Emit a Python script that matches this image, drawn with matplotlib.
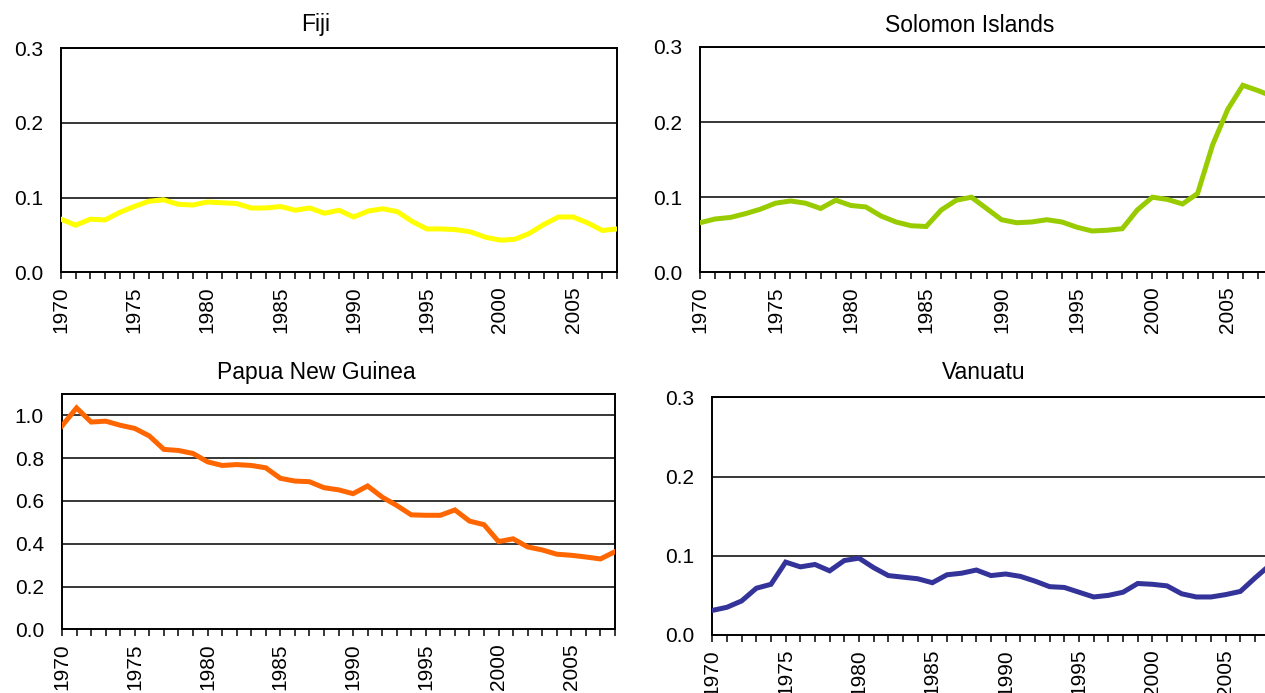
import matplotlib
matplotlib.use("Agg")
import matplotlib.pyplot as plt
import numpy as np

plt.rcParams['font.family'] = ['Liberation Sans', 'DejaVu Sans']

years = list(range(1970, 2009))

fiji = [0.071, 0.063, 0.071, 0.070, 0.080, 0.088, 0.095, 0.097, 0.091, 0.090,
        0.094, 0.093, 0.092, 0.086, 0.086, 0.088, 0.083, 0.086, 0.079, 0.083,
        0.074, 0.082, 0.085, 0.081, 0.068, 0.058, 0.058, 0.057, 0.054, 0.047,
        0.043, 0.044, 0.052, 0.064, 0.074, 0.074, 0.066, 0.056, 0.058]

solomon = [0.066, 0.071, 0.073, 0.078, 0.084, 0.092, 0.095, 0.092, 0.085, 0.096,
           0.089, 0.087, 0.075, 0.067, 0.062, 0.061, 0.083, 0.096, 0.100, 0.085,
           0.070, 0.066, 0.067, 0.070, 0.067, 0.060, 0.055, 0.056, 0.058, 0.083,
           0.100, 0.097, 0.091, 0.105, 0.170, 0.217, 0.249, 0.242, 0.234]

png = [0.951, 1.035, 0.969, 0.973, 0.954, 0.939, 0.904, 0.841, 0.836, 0.822,
       0.783, 0.766, 0.770, 0.766, 0.755, 0.706, 0.693, 0.690, 0.662, 0.652,
       0.634, 0.670, 0.618, 0.579, 0.535, 0.533, 0.533, 0.558, 0.506, 0.489,
       0.410, 0.423, 0.385, 0.371, 0.351, 0.346, 0.338, 0.329, 0.363]

vanuatu = [0.031, 0.035, 0.043, 0.059, 0.064, 0.092, 0.086, 0.089, 0.081, 0.094,
           0.097, 0.085, 0.075, 0.073, 0.071, 0.066, 0.076, 0.078, 0.082, 0.075,
           0.077, 0.074, 0.068, 0.061, 0.060, 0.054, 0.048, 0.050, 0.054, 0.065,
           0.064, 0.062, 0.052, 0.048, 0.048, 0.051, 0.055, 0.072, 0.088]

W, H = 1265, 693
fig = plt.figure(figsize=(W / 100, H / 100), dpi=100)


def px_axes(left, top, right, bottom):
    # pixel box -> figure fraction
    return fig.add_axes([left / W, 1 - bottom / H, (right - left) / W, (bottom - top) / H])


panels = [
    ("Fiji", fiji, "#FFFF00", (61, 48, 617, 272.3), (0, 0.3), [0.0, 0.1, 0.2, 0.3], (316, 25)),
    ("Solomon Islands", solomon, "#99CC00", (700, 47, 1273, 272.3), (0, 0.3), [0.0, 0.1, 0.2, 0.3], (970, 25)),
    ("Papua New Guinea", png, "#FF6600", (62, 394, 615, 629.3), (0, 1.1), [0.0, 0.2, 0.4, 0.6, 0.8, 1.0], (316, 373)),
    ("Vanuatu", vanuatu, "#333399", (712.3, 397.3, 1269.7, 635), (0, 0.3), [0.0, 0.1, 0.2, 0.3], (984, 373)),
]

for title, vals, color, box, ylim, yt, tpos in panels:
    ax = px_axes(*box)
    ax.plot(years, vals, color=color, lw=3.6, solid_joinstyle='miter', zorder=3)
    ax.set_xlim(1970, 2008)
    ax.set_ylim(*ylim)
    ax.set_yticks(yt)
    ax.set_yticklabels([f"{v:.1f}" for v in yt])
    for v in yt[1:]:
        ax.axhline(v, color='black', lw=1.1, zorder=1)
    ax.set_xticks(range(1970, 2009, 5))
    ax.set_xticks(years, minor=True)
    ax.set_xticklabels([str(y) for y in range(1970, 2009, 5)], rotation=90)
    ax.tick_params(axis='x', which='both', direction='out', length=5, width=1.1,
                   labelsize=15, pad=5)
    ax.tick_params(axis='y', length=0, labelsize=15, pad=13)
    for s in ax.spines.values():
        s.set_linewidth(1.4)
        s.set_color('black')
    fig.text(tpos[0] / W, 1 - tpos[1] / H, title, ha='center', va='center', fontsize=16.5)

fig.savefig("out.png", dpi=100)
